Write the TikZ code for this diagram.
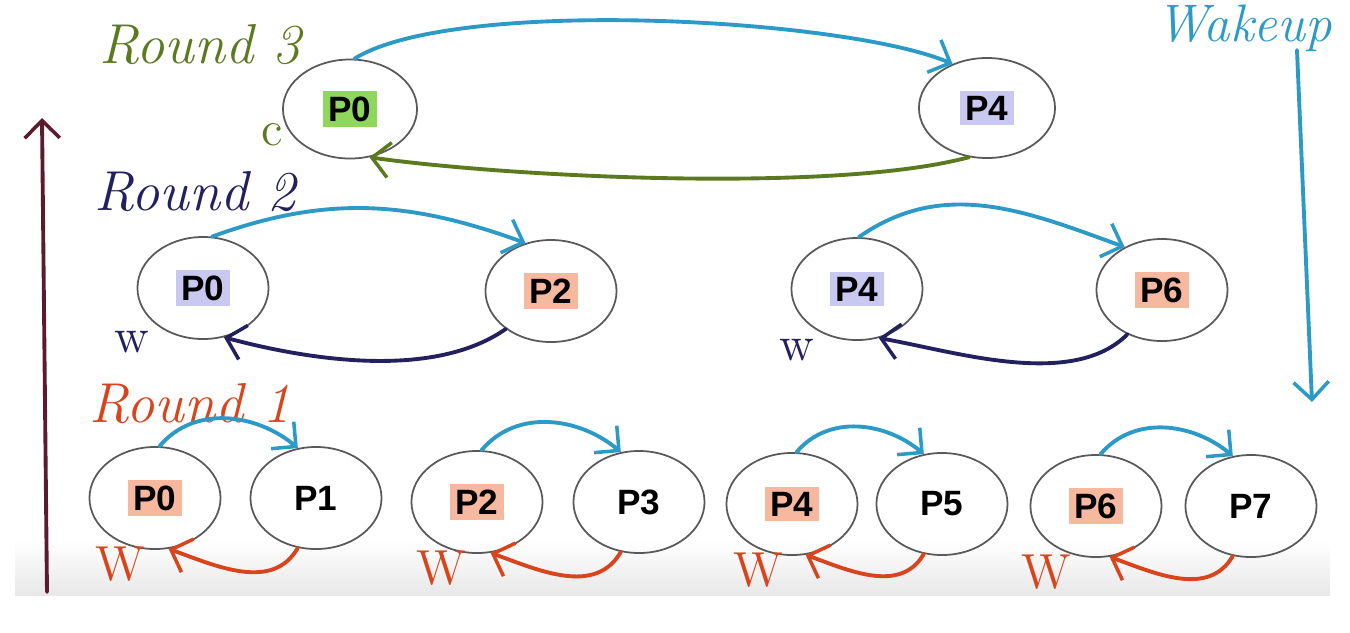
\documentclass[tikz,border=0pt]{standalone}
\usepackage{fontspec}
\newfontfamily\procfont{Liberation Sans}
\usepackage{tikz}
\usetikzlibrary{positioning, shapes.geometric, arrows.meta, calc}

\definecolor{wakeblue}{HTML}{2B9AC6}
\definecolor{roundgreen}{HTML}{5B7A1F}
\definecolor{roundnavy}{HTML}{22205E}
\definecolor{roundred}{HTML}{D9441C}
\definecolor{upmaroon}{HTML}{5A1B2E}
\definecolor{hlgreen}{HTML}{8FD65C}
\definecolor{hllav}{HTML}{C9C8F0}
\definecolor{hlpeach}{HTML}{F6B9A0}

\newcommand{\hlp}[2]{\setlength{\fboxsep}{1.5pt}\colorbox{#1}{#2}}

\tikzset{
    proc/.style={ellipse, draw=black!65, line width=0.5pt, inner sep=0pt,
        minimum width=1.31cm, minimum height=1.02cm,
        font=\procfont\bfseries\fontsize{10}{12}\selectfont},
    hand/.style={font=\itshape\fontsize{16}{19}\selectfont},
    mark w/.style={font=\fontsize{14}{16}\selectfont},
    tip/.style={-{Straight Barb[length=5pt, width=10pt, line width=1pt]}},
    wire/.style={tip, line width=1.1pt, line cap=round},
}

\begin{document}
\begin{tikzpicture}[x=0.01cm, y=-0.01cm]
    \useasboundingbox (0,0) rectangle (1350,632);
    % screen shade at the bottom
    \shade[top color=white, bottom color=black!9] (15,540) rectangle (1330,595);

    % --- Round 3 ---
    \node[hand, text=roundgreen] (r3lbl) at (200,45) {Round 3};
    \node[proc, minimum width=1.34cm, minimum height=0.99cm] (r3p0) at (350,109) {\hlp{hlgreen}{P0}};
    \node[proc, minimum width=1.36cm, minimum height=1.0cm] (r3p4) at (987,108) {\hlp{hllav}{P4}};
    \node[mark w, text=roundgreen] (r3c) at (272,135) {c};
    \draw[wire, wakeblue] (r3p0.85) to[out=32, in=157, looseness=0.5] (r3p4.128);
    \draw[wire, roundgreen] (r3p4.250) to[out=195, in=-8, looseness=0.6] (r3p0.292);

    % --- Round 2 ---
    \node[hand, text=roundnavy] (r2lbl) at (195,192) {Round 2};
    \node[proc] (r2p0) at (203,288) {\hlp{hllav}{P0}};
    \node[proc] (r2p2) at (551,291) {\hlp{hlpeach}{P2}};
    \node[proc] (r2p4) at (857,289) {\hlp{hllav}{P4}};
    \node[proc] (r2p6) at (1162,290) {\hlp{hlpeach}{P6}};
    \node[mark w, text=roundnavy] (r2w0) at (132,342) {w};
    \node[mark w, text=roundnavy] (r2w4) at (797,350) {w};
    \draw[wire, wakeblue] (r2p0.80) to[out=20, in=160] (r2p2.118);
    \draw[wire, roundnavy] (r2p2.220) to[out=215, in=-15, looseness=0.8] (r2p0.293);
    \draw[wire, wakeblue] (r2p4.88) to[out=35, in=160] (r2p6.131);
    \draw[wire, roundnavy] (r2p6.232) to[out=225, in=-10, looseness=0.8] (r2p4.294);

    % --- Round 1 ---
    \node[hand, text=roundred] (r1lbl) at (190,404) {Round 1};
    \foreach \a/\b/\xa/\xb/\y/\wx in {0/1/155/316/498/120, 2/3/477/639/502/441,
                                      4/5/792/942/504/758, 6/7/1096/1251/506/1046} {
        \node[proc] (r1p\a) at (\xa,\y) {\hlp{hlpeach}{P\a}};
        \node[proc] (r1p\b) at (\xb,\y) {P\b};
        \node[mark w, text=roundred] (r1w\a) at (\wx,\y+66) {W};
        \draw[wire, wakeblue] (r1p\a.85) to[out=50, in=140] (r1p\b.110);
        \draw[wire, roundred] (r1p\b.250) to[out=240, in=-20] (r1p\a.285);
    }

    % --- side arrows ---
    \coordinate (upfoot) at (47,592);
    \coordinate (uphead) at (42,118);
    \draw[wire, upmaroon] (upfoot) -- (uphead);
    \node[hand, text=wakeblue, anchor=east, font=\itshape\fontsize{15}{18}\selectfont] (wake) at (1344,28) {Wakeup};
    \coordinate (wakefoot) at (1297,50);
    \coordinate (wakehead) at (1312,402);
    \draw[wire, wakeblue] (wakefoot) -- (wakehead);
\end{tikzpicture}
\end{document}
